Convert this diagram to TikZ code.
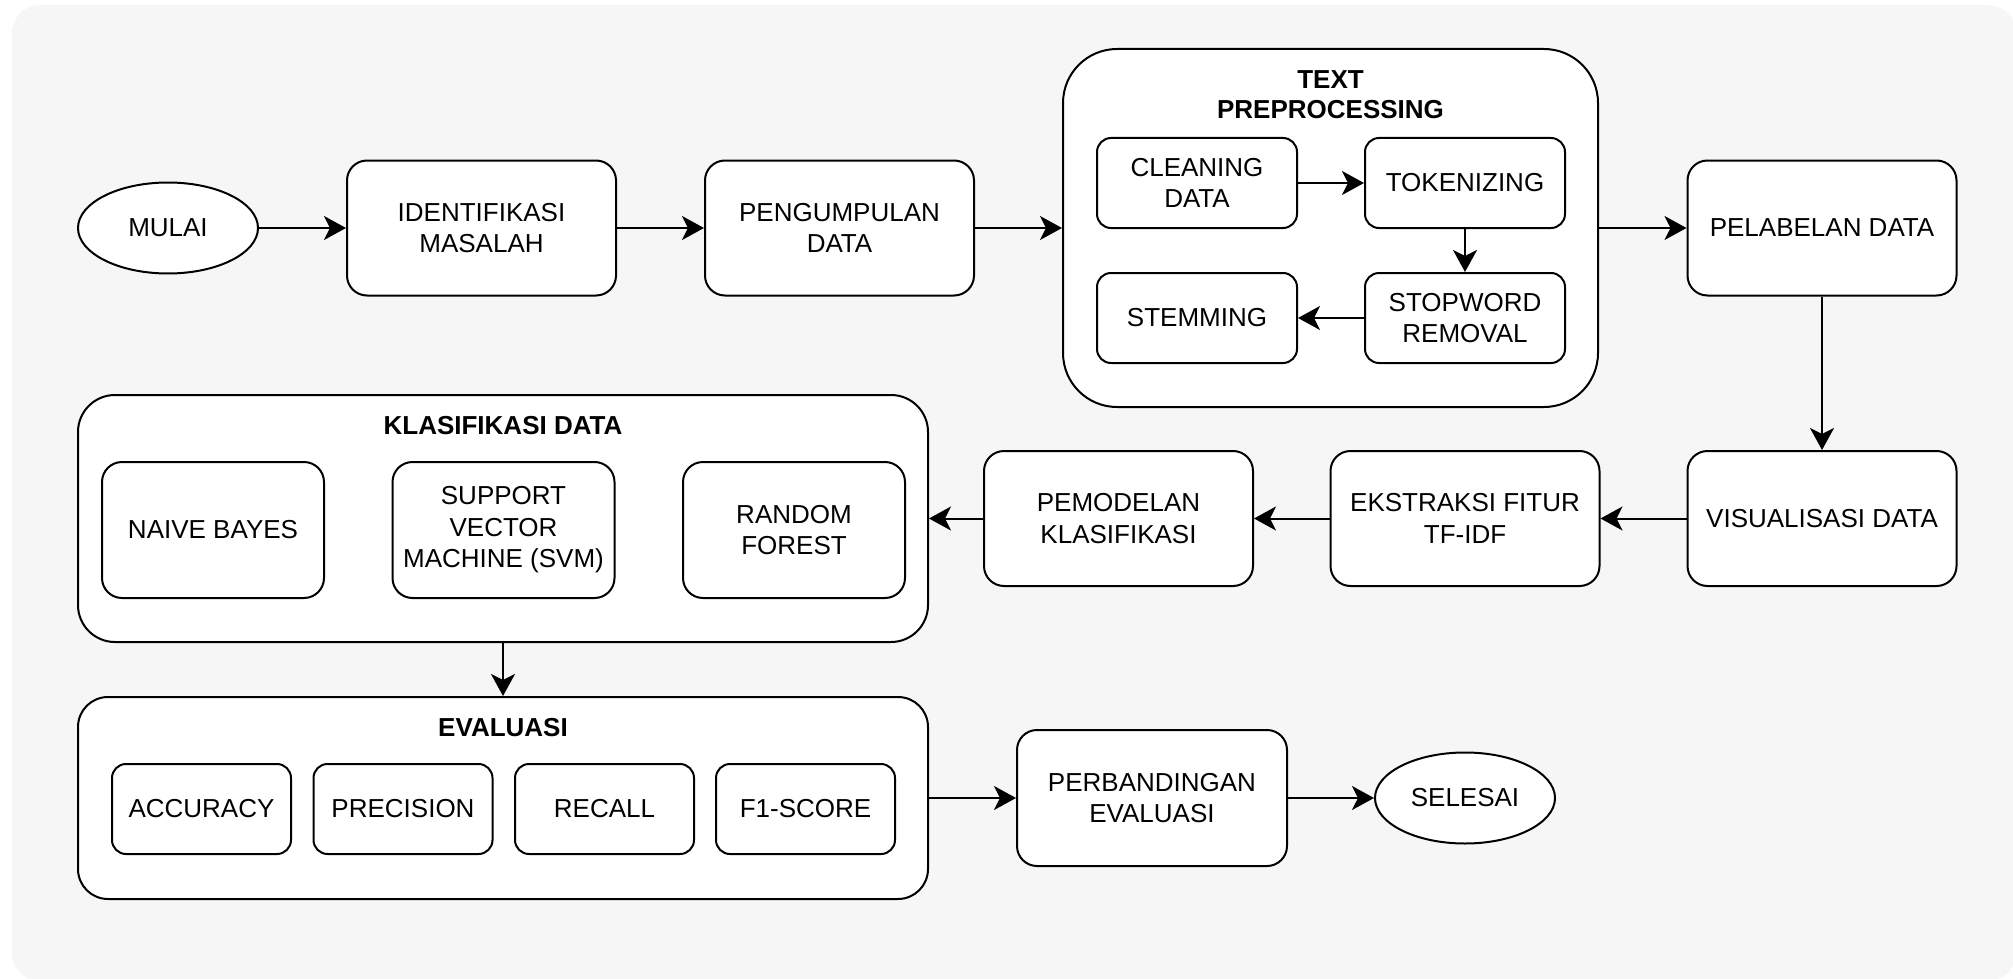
\documentclass[tikz,border=0pt]{standalone}
\usepackage{fontspec}
\setmainfont{Liberation Sans}
\usetikzlibrary{arrows.meta}
\usetikzlibrary{shapes.geometric}
\definecolor{bggray}{HTML}{F6F6F6}

\begin{document}
\begin{tikzpicture}[x=1pt, y=-1pt, line width=2pt, font=\fontsize{26}{31.5}\selectfont,
  box/.style={draw, fill=white, rounded corners=20pt, minimum width=269pt, minimum height=135pt, align=center, inner sep=4pt},
  subbox/.style={draw, fill=white, rounded corners=14pt, minimum width=200pt, minimum height=90pt, align=center, inner sep=4pt},
  terminal/.style={draw, fill=white, ellipse, minimum width=180pt, minimum height=91pt, inner sep=2pt},
  group/.style={draw, fill=white, rounded corners=#1, inner sep=0pt},
  title/.style={font=\fontsize{26}{30}\selectfont\bfseries, align=center, inner sep=0pt},
  flow/.style={-{Stealth[length=22pt, width=24pt, inset=6pt]}}]
  \useasboundingbox (0,0) rectangle (2013,979);
  \fill[bggray, rounded corners=28pt] (12,5) rectangle (2016,981);

  \node[group=54pt, minimum width=535pt, minimum height=358pt] (tp) at (1330.5,228) {};
  \node[title] at (1330.5,95) {TEXT\\PREPROCESSING};
  \node[group=37pt, minimum width=850pt, minimum height=247pt] (klasifikasi) at (503,518.5) {};
  \node[title] at (503,426) {KLASIFIKASI DATA};
  \node[group=30pt, minimum width=850pt, minimum height=202pt] (evaluasi) at (503,798) {};
  \node[title] at (503,728) {EVALUASI};

  \node[terminal] (mulai) at (168,228) {MULAI};
  \node[box] (identifikasi) at (481.5,228) {IDENTIFIKASI\\MASALAH};
  \node[box] (pengumpulan) at (839.5,228) {PENGUMPULAN\\DATA};
  \node[subbox] (cleaning) at (1197,183) {CLEANING\\DATA};
  \node[subbox] (tokenizing) at (1465,183) {TOKENIZING};
  \node[subbox] (stemming) at (1197,318) {STEMMING};
  \node[subbox] (stopword) at (1465,318) {STOPWORD\\REMOVAL};
  \node[box] (pelabelan) at (1822,228) {PELABELAN DATA};

  \node[box] (visualisasi) at (1822,518.5) {VISUALISASI DATA};
  \node[box] (ekstraksi) at (1465,518.5) {EKSTRAKSI FITUR\\TF-IDF};
  \node[box] (pemodelan) at (1118.5,518.5) {PEMODELAN\\KLASIFIKASI};
  \node[box, minimum width=222pt, minimum height=136pt] (naive) at (213,530) {NAIVE BAYES};
  \node[box, minimum width=222pt, minimum height=136pt] (svm) at (503.5,530) {SUPPORT\\VECTOR\\MACHINE (SVM)};
  \node[box, minimum width=222pt, minimum height=136pt] (random) at (794,530) {RANDOM\\FOREST};

  \node[subbox, minimum width=179pt] (accuracy) at (201.5,809) {ACCURACY};
  \node[subbox, minimum width=179pt] (precision) at (403,809) {PRECISION};
  \node[subbox, minimum width=179pt] (recall) at (604.5,809) {RECALL};
  \node[subbox, minimum width=179pt] (fscore) at (805.5,809) {F1-SCORE};
  \node[box, minimum width=270pt, minimum height=136pt] (perbandingan) at (1152,798) {PERBANDINGAN\\EVALUASI};
  \node[terminal] (selesai) at (1465,798) {SELESAI};

  \draw[flow] (mulai) -- (identifikasi);
  \draw[flow] (identifikasi) -- (pengumpulan);
  \draw[flow] (pengumpulan) -- (tp);
  \draw[flow] (cleaning) -- (tokenizing);
  \draw[flow] (tokenizing) -- (stopword);
  \draw[flow] (stopword) -- (stemming);
  \draw[flow] (tp) -- (pelabelan);
  \draw[flow] (pelabelan) -- (visualisasi);
  \draw[flow] (visualisasi) -- (ekstraksi);
  \draw[flow] (ekstraksi) -- (pemodelan);
  \draw[flow] (pemodelan) -- (klasifikasi);
  \draw[flow] (klasifikasi) -- (evaluasi);
  \draw[flow] (evaluasi) -- (perbandingan);
  \draw[flow] (perbandingan) -- (selesai);
\end{tikzpicture}
\end{document}
